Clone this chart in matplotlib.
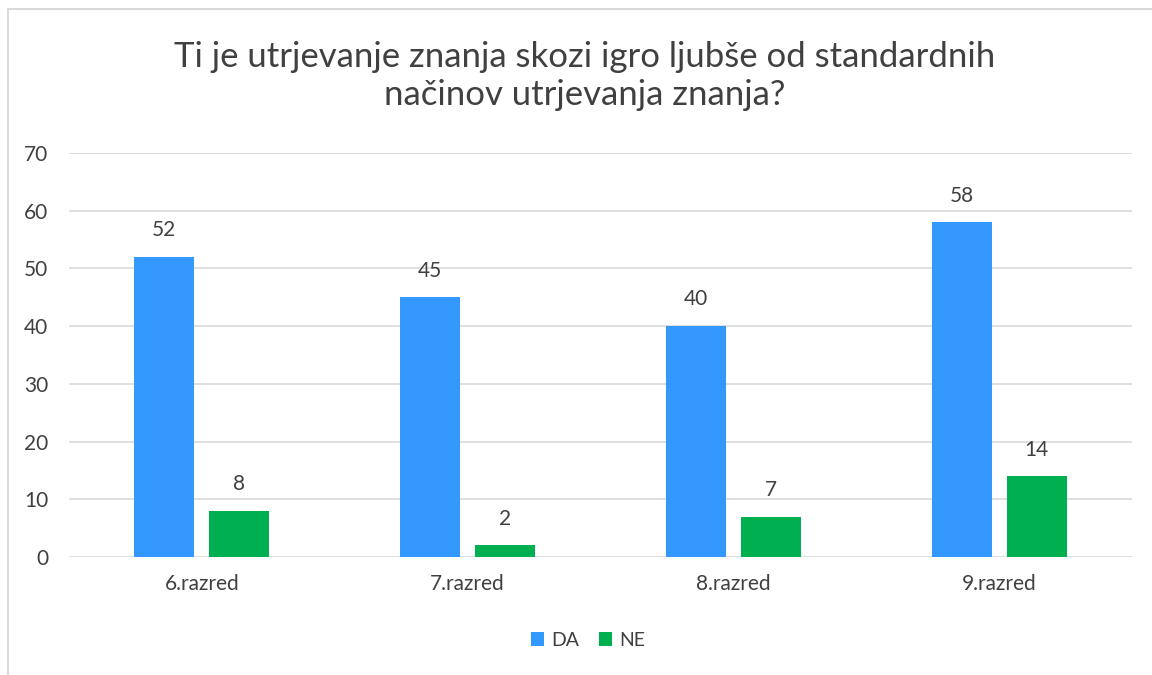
import numpy as np
import matplotlib
matplotlib.use("Agg")
import matplotlib.pyplot as plt
from matplotlib.lines import Line2D

categories = ["6.razred", "7.razred", "8.razred", "9.razred"]
da_values = [52, 45, 40, 58]
ne_values = [8, 2, 7, 14]
series_names = ["DA", "NE"]
yticks = [0, 10, 20, 30, 40, 50, 60, 70]
title = "Ti je utrjevanje znanja skozi igro ljubše od standardnih\nnačinov utrjevanja znanja?"

BLUE = "#3399FF"
GREEN = "#00B050"
TEXT = "#404040"

plt.rcParams["font.family"] = ["Lato", "DejaVu Sans"]

fig = plt.figure(figsize=(11.52, 6.75), dpi=100)
ax = fig.add_axes([69 / 1152, 1 - 557 / 675, (1132 - 69) / 1152, (557 - 153) / 675])

x = np.arange(len(categories))
w = 0.226
off = 0.141
b1 = ax.bar(x - off, da_values, w, color=BLUE, label=series_names[0], zorder=3)
b2 = ax.bar(x + off, ne_values, w, color=GREEN, label=series_names[1], zorder=3)

for bars in (b1, b2):
    for bar in bars:
        ax.annotate(f"{bar.get_height():g}",
                    (bar.get_x() + bar.get_width() / 2, bar.get_height()),
                    xytext=(0, 12), textcoords="offset points",
                    ha="center", va="bottom", fontsize=15, color=TEXT)

ax.set_xlim(-0.5, len(categories) - 0.5)
ax.set_ylim(0, 70)
ax.set_yticks(yticks)
ax.set_xticks(x)
ax.set_xticklabels(categories)
ax.yaxis.grid(True, color="#D9D9D9", linewidth=1.2, zorder=0)
ax.tick_params(axis="both", length=0, labelsize=15, labelcolor=TEXT)
ax.tick_params(axis="y", pad=15)
ax.tick_params(axis="x", pad=12)
for s in ax.spines.values():
    s.set_visible(False)

fig.text(585 / 1152, 1 - 76 / 675, title, ha="center", va="center",
         fontsize=25, color=TEXT, linespacing=1.2)

fig.legend(handles=[b1, b2], loc="center", bbox_to_anchor=(588 / 1152, 1 - 640 / 675),
           ncol=2, frameon=False, fontsize=14, handlelength=0.7, handleheight=0.7,
           columnspacing=1.0, handletextpad=0.35, labelcolor=TEXT)

# chart border (only left and top are inside the image)
fig.add_artist(Line2D([8 / 1152, 8 / 1152], [0, 1 - 9 / 675], color="#D9D9D9", lw=1.5))
fig.add_artist(Line2D([8 / 1152, 1], [1 - 9 / 675, 1 - 9 / 675], color="#D9D9D9", lw=1.5))

plt.savefig("out.png", dpi=100)
plt.close()
